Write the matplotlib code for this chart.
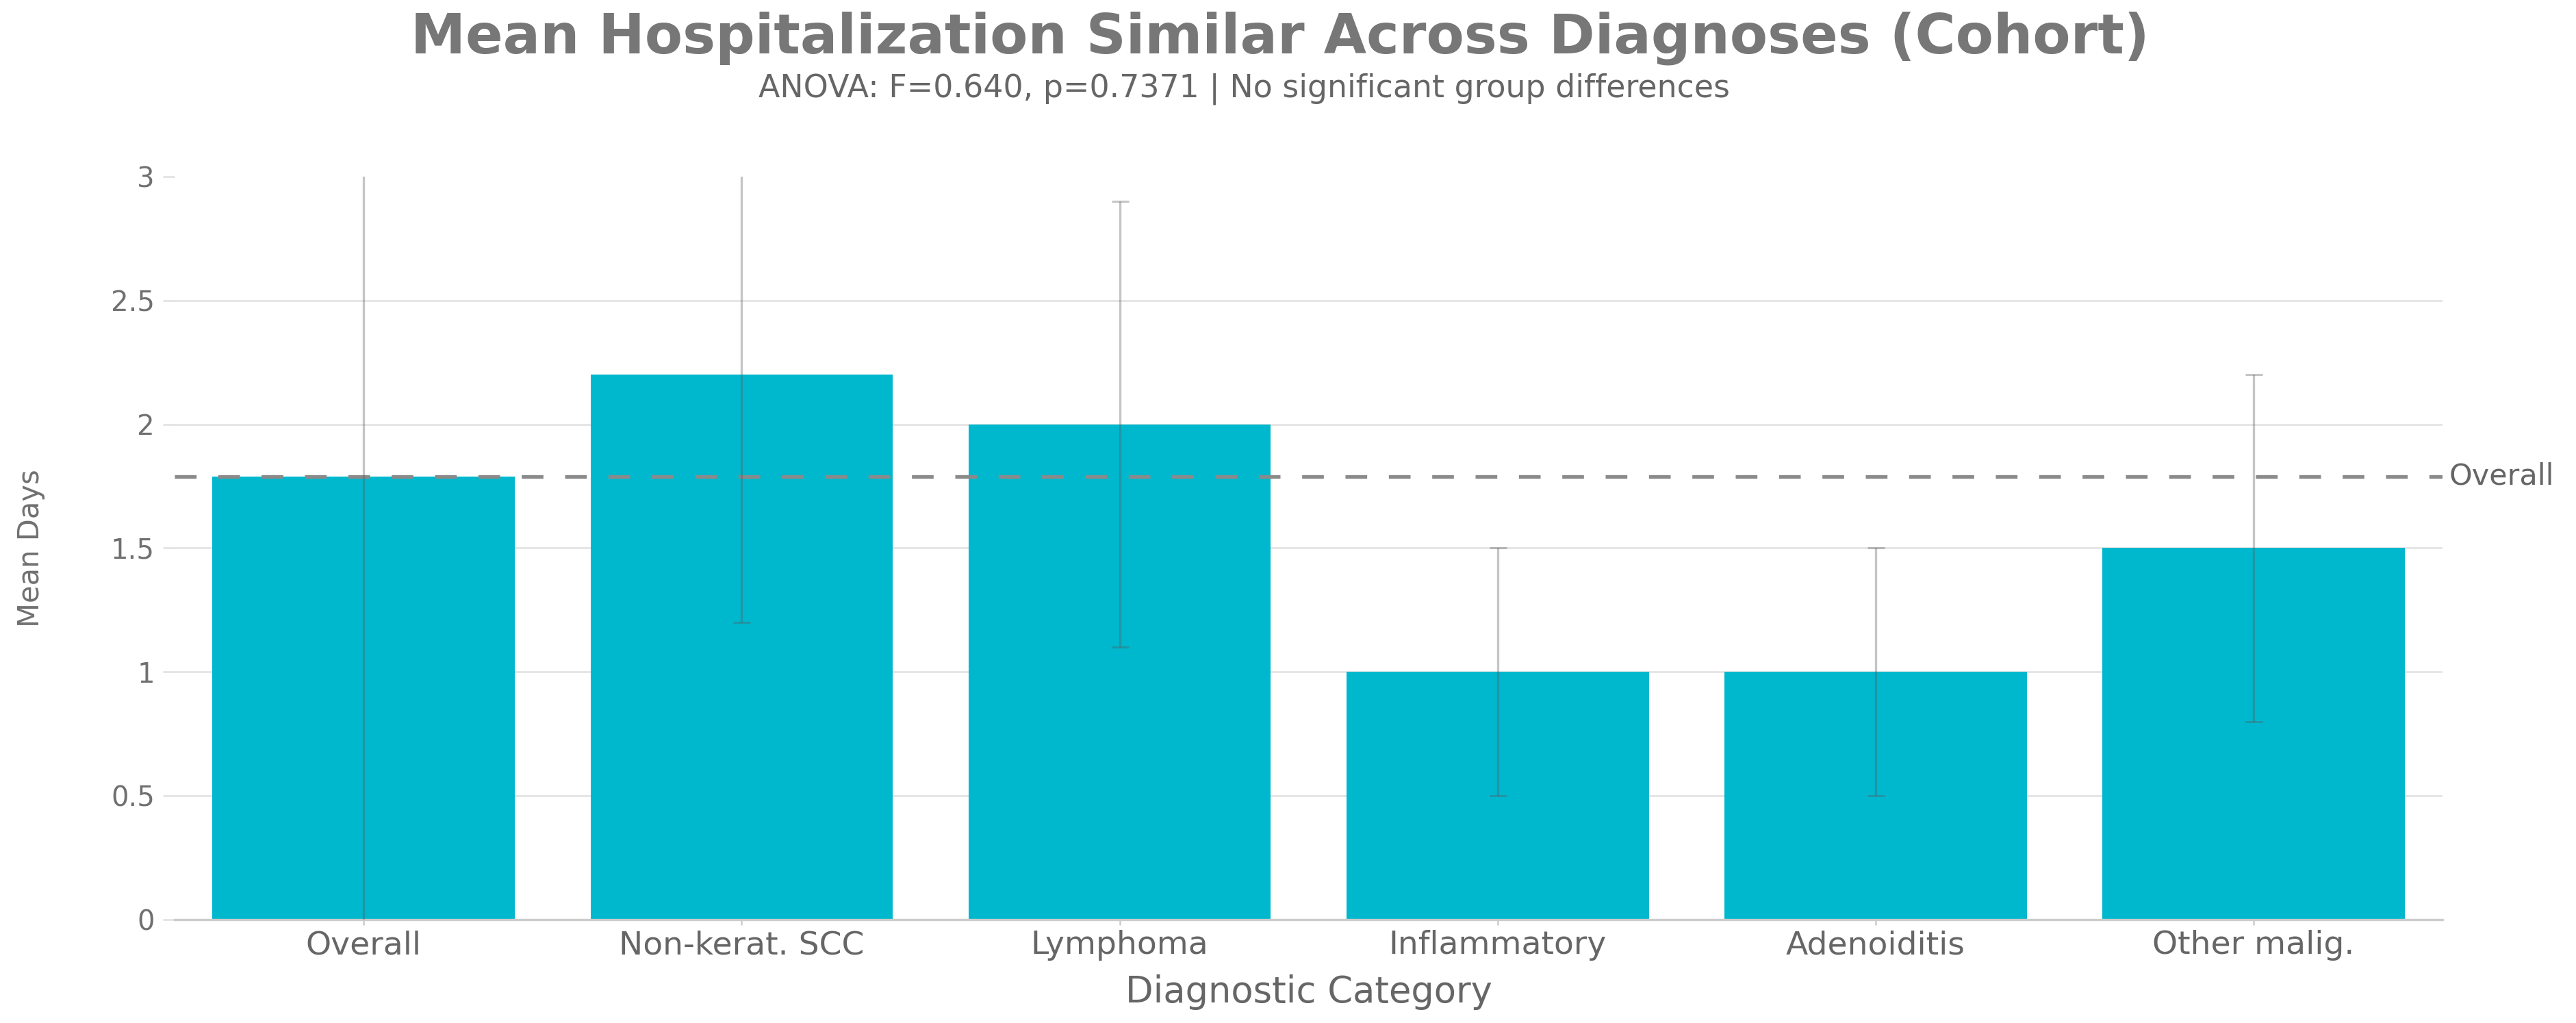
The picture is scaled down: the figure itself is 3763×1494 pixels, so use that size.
import matplotlib
matplotlib.use("Agg")
import matplotlib.pyplot as plt
import numpy as np

# data
categories = ["Overall", "Non-kerat. SCC", "Lymphoma", "Inflammatory", "Adenoiditis", "Other malig."]
mean_days = [1.79, 2.2, 2.0, 1.0, 1.0, 1.5]
sd_days = [1.9, 1.0, 0.9, 0.5, 0.5, 0.7]
overall_mean = 1.79
y_ticks = [0, 0.5, 1, 1.5, 2, 2.5, 3]
y_tick_labels = ["0", "0.5", "1", "1.5", "2", "2.5", "3"]

title = "Mean Hospitalization Similar Across Diagnoses (Cohort)"
subtitle = "ANOVA: F=0.640, p=0.7371 | No significant group differences"

BAR = "#00B8CE"
TXT = "#666666"

plt.rcParams["font.family"] = ["DejaVu Sans"]

fig = plt.figure(figsize=(37.63, 14.94), dpi=100)
ax = fig.add_axes([0.0678, 0.1011, 0.8804, 0.7262])

x = np.arange(len(categories))
ax.bar(x, mean_days, width=0.8, color=BAR, zorder=2)
ax.errorbar(x, mean_days, yerr=sd_days, fmt="none", ecolor=(0.35, 0.35, 0.35, 0.35),
            elinewidth=2.4, capsize=9, capthick=2.2, zorder=4)
ax.axhline(overall_mean, color="#8a8a8a", lw=3.8, dashes=(6, 6), zorder=3)
ax.text(1.003, overall_mean, "Overall", transform=ax.get_yaxis_transform(),
        ha="left", va="center", fontsize=31, color=TXT, clip_on=False)

ax.set_xlim(-0.5, len(categories) - 0.5)
ax.set_ylim(0, 3)
ax.set_yticks(y_ticks)
ax.set_yticklabels(y_tick_labels)
ax.set_xticks(x)
ax.set_xticklabels(categories)

ax.grid(axis="y", color="#e6e6e6", lw=2.2, zorder=0)
ax.set_axisbelow(True)
gl = ax.yaxis.get_gridlines()
gl[0].set_visible(False)
gl[-1].set_visible(False)

for side in ["top", "right", "left"]:
    ax.spines[side].set_visible(False)
ax.spines["bottom"].set_color("#cccccc")
ax.spines["bottom"].set_linewidth(2.4)

ax.tick_params(axis="y", length=12, width=1.8, color="#e0e0e0", pad=9,
               labelsize=29, labelcolor="#707070")
ax.tick_params(axis="x", length=6, width=1.8, color="#cccccc", pad=5,
               labelsize=34, labelcolor=TXT)

ax.set_xlabel("Diagnostic Category", fontsize=38, color=TXT, labelpad=14)
ax.set_ylabel("Mean Days", fontsize=30, color="#707070")
ax.yaxis.set_label_coords(-0.057, 0.5)

fig.text(0.497, 0.948, title, ha="center", va="baseline", fontsize=58,
         fontweight="bold", color="#777777")
fig.text(0.483, 0.9056, subtitle, ha="center", va="baseline", fontsize=33, color=TXT)

fig.savefig("out.png", dpi=100, facecolor="white")
